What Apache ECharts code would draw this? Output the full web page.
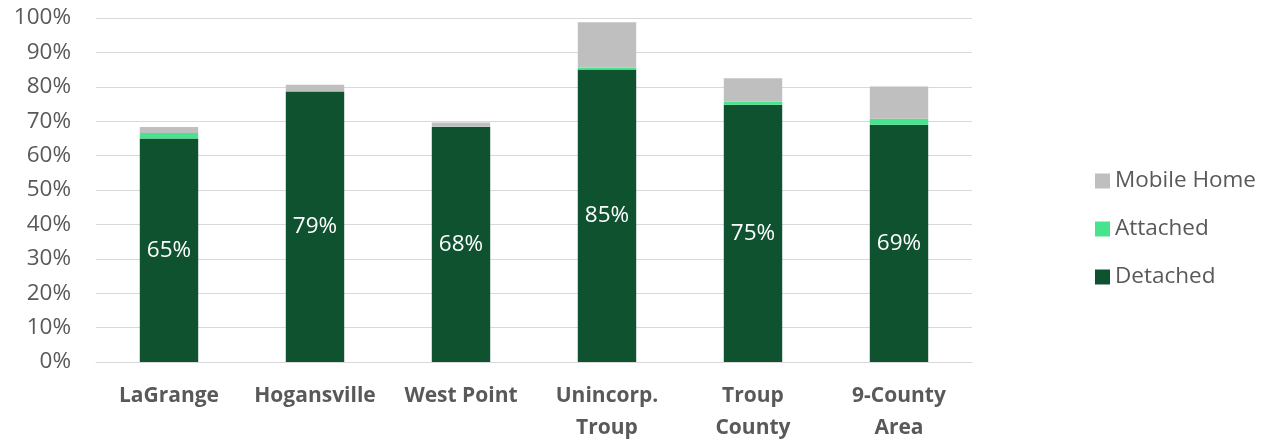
<!DOCTYPE html>
<html>
<head>
<meta charset="utf-8">
<script src="https://cdn.jsdelivr.net/npm/echarts@6/dist/echarts.min.js"></script>
<style>html,body{margin:0;padding:0;background:#fff}#c{width:1274px;height:444px}</style>
</head>
<body>
<div id="c"></div>
<script>
var categories = ['LaGrange', 'Hogansville', 'West Point', 'Unincorp.\nTroup', 'Troup\nCounty', '9-County\nArea'];
var detached = [65.0, 78.6, 68.3, 85.0, 74.8, 69.0];
var attached = [1.6, 0.1, 0.1, 0.6, 0.9, 1.7];
var mobileHome = [1.7, 1.9, 1.2, 13.2, 6.8, 9.4];
var yTicks = [0, 10, 20, 30, 40, 50, 60, 70, 80, 90, 100];

var FONT = 'Open Sans';
var chart = echarts.init(document.getElementById('c'));
chart.setOption({
  animation: false,
  textStyle: { fontFamily: FONT },
  grid: { left: 96, right: 302, top: 18, bottom: 79, containLabel: false },
  legend: {
    orient: 'vertical',
    left: 1090,
    top: 164,
    itemWidth: 15,
    itemHeight: 15,
    itemGap: 24,
    itemTextGap: 6,
    icon: 'rect',
    data: ['Mobile Home', 'Attached', 'Detached'],
    textStyle: { color: '#595959', fontSize: 22.5, lineHeight: 24, fontFamily: FONT }
  },
  xAxis: {
    type: 'category',
    data: categories,
    axisLine: { show: true, lineStyle: { color: '#D9D9D9' } },
    axisTick: { show: false },
    axisLabel: { color: '#595959', fontSize: 21, fontWeight: 'bold', lineHeight: 32, margin: 18, interval: 0, fontFamily: FONT }
  },
  yAxis: {
    type: 'value',
    min: yTicks[0],
    max: yTicks[yTicks.length - 1],
    interval: 10,
    axisLine: { show: false },
    axisTick: { show: false },
    splitLine: { lineStyle: { color: '#D9D9D9', width: 1 } },
    axisLabel: { color: '#595959', fontSize: 22.5, margin: 25, formatter: function (v) { return v + '%'; }, fontFamily: FONT }
  },
  series: [
    {
      name: 'Detached', type: 'bar', stack: 'a', data: detached, barCategoryGap: '60%',
      itemStyle: { color: '#0E5230' },
      label: { show: true, position: 'inside', color: '#fff', fontSize: 22.5, fontFamily: FONT,
        formatter: function (p) { return Math.round(p.value) + '%'; } }
    },
    { name: 'Attached', type: 'bar', stack: 'a', data: attached, itemStyle: { color: '#48E38D' } },
    { name: 'Mobile Home', type: 'bar', stack: 'a', data: mobileHome, itemStyle: { color: '#BFBFBF' } }
  ]
});
</script>
</body>
</html>
